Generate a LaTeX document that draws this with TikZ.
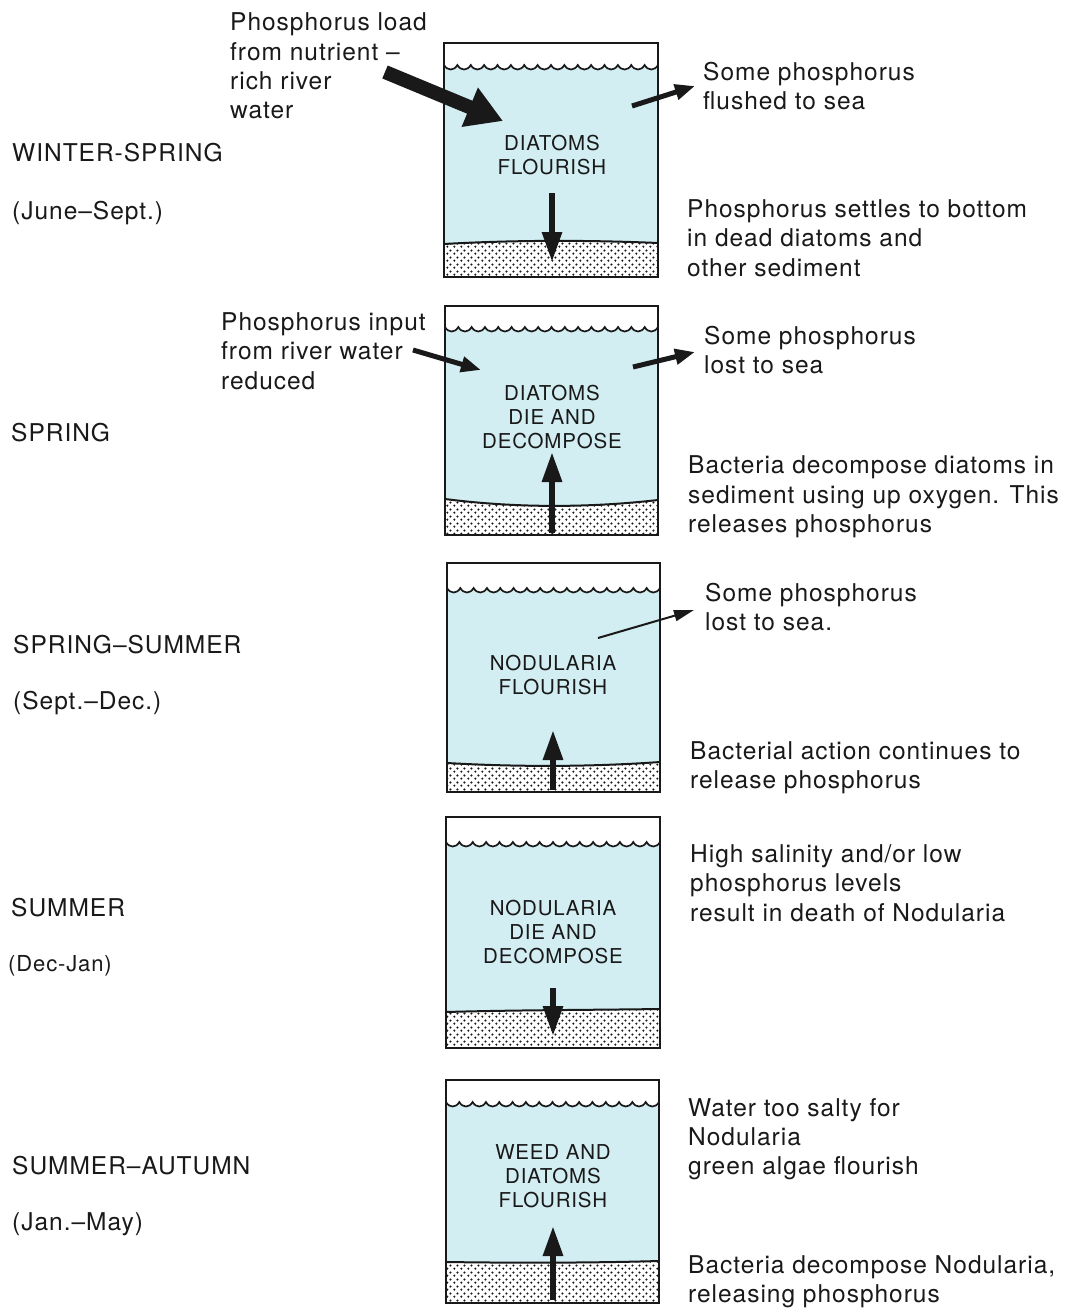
\documentclass[tikz,border=0pt]{standalone}
\usepackage{fontspec}
\setmainfont{TeX Gyre Heros}[LetterSpace=4.0]
\usetikzlibrary{arrows.meta,patterns}
\definecolor{water}{RGB}{210,238,242}
\definecolor{ink}{RGB}{25,25,25}
\pgfdeclarepatternformonly{seddots}{\pgfpoint{-1.5pt}{-1.5pt}}{\pgfpoint{5.5pt}{5.5pt}}{\pgfpoint{7pt}{7pt}}{%
  \pgfpathcircle{\pgfqpoint{0pt}{0pt}}{1.3pt}%
  \pgfpathcircle{\pgfqpoint{3.5pt}{3.5pt}}{1.3pt}%
  \pgfusepathqfill}
% #1 L, #2 R, #3 T, #4 B, #5 wave y, #6 sed left, #7 sed mid ctrl, #8 sed right
\newcommand\drawtank[8]{%
  \fill[water] (#1,#5) foreach \i in {0,...,15}{ .. controls ({#1+(\i+0.25)*(#2-#1)/16},{#5+6}) and ({#1+(\i+0.75)*(#2-#1)/16},{#5+6}) .. ({#1+(\i+1)*(#2-#1)/16},#5)} -- (#2,#8) .. controls ({#2-70},#7) and ({#1+70},#7) .. (#1,#6) -- cycle;
  \fill[pattern=seddots, pattern color=ink] (#1,#6) .. controls ({#1+70},#7) and ({#2-70},#7) .. (#2,#8) -- (#2,#4) -- (#1,#4) -- cycle;
  \draw[line width=1.7pt, ink] (#1,#5) foreach \i in {0,...,15}{ .. controls ({#1+(\i+0.25)*(#2-#1)/16},{#5+6}) and ({#1+(\i+0.75)*(#2-#1)/16},{#5+6}) .. ({#1+(\i+1)*(#2-#1)/16},#5)};
  \draw[line width=2pt, ink] (#1,#6) .. controls ({#1+70},#7) and ({#2-70},#7) .. (#2,#8);
  \draw[line width=2.6pt, ink] (#1,#3) rectangle (#2,#4);
}
\tikzset{
  bigarrow/.style={ink, line width=14pt, -{Triangle[width=40pt,length=36pt]}},
  medarrow/.style={ink, line width=5pt, -{Triangle[width=15pt,length=20pt]}},
  vertarrow/.style={ink, line width=6pt, -{Triangle[width=19pt,length=30pt]}},
  thinarrow/.style={ink, line width=2pt, -{Triangle[width=11pt,length=20pt]}},
  lbl/.style={anchor=west, inner sep=0pt, align=left, font=\fontsize{24.5}{29.3}\selectfont, text=ink},
  smalllbl/.style={anchor=west, inner sep=0pt, align=left, font=\fontsize{22}{26}\selectfont, text=ink},
  boxlbl/.style={inner sep=0pt, align=center, font=\fontsize{20.5}{24}\selectfont, text=ink},
}
\begin{document}
\begin{tikzpicture}[x=1pt, y=-1pt]
\useasboundingbox (0,0) rectangle (1083,1310);
\fill[white] (0,0) rectangle (1083,1310);

% tanks
\drawtank{444}{658}{43}{277}{65}{244}{240}{243}
\drawtank{445}{658}{306}{535}{327}{499}{508}{500}
\drawtank{447}{660}{563}{792}{588}{763}{767}{762}
\drawtank{446}{660}{817}{1048}{842}{1012}{1010}{1009}
\drawtank{446}{659}{1080}{1303}{1102}{1262}{1263}{1261}

% box labels
\node[boxlbl] (b1) at (552,155) {DIATOMS\\FLOURISH};
\node[boxlbl] (b2) at (552,417) {DIATOMS\\DIE AND\\DECOMPOSE};
\node[boxlbl] (b3) at (553,675) {NODULARIA\\FLOURISH};
\node[boxlbl] (b4) at (553,932) {NODULARIA\\DIE AND\\DECOMPOSE};
\node[boxlbl] (b5) at (553,1176) {WEED AND\\DIATOMS\\FLOURISH};

% season labels
\node[lbl] (s1) at (12,153) {WINTER-SPRING};
\node[lbl] (s1d) at (12,213) {(June–Sept.)};
\node[lbl] (s2) at (11,433) {SPRING};
\node[lbl] (s3) at (13,645) {SPRING–SUMMER};
\node[lbl] (s3d) at (13,703) {(Sept.–Dec.)};
\node[lbl] (s4) at (11,908) {SUMMER};
\node[smalllbl] (s4d) at (8,966) {(Dec-Jan)};
\node[lbl] (s5) at (12,1166) {SUMMER–AUTUMN};
\node[lbl] (s5d) at (12,1224) {(Jan.–May)};

% side labels
\node[lbl] (l1) at (230,66) {Phosphorus load\\from nutrient –\\rich river\\water};
\node[lbl] (r1a) at (703,86) {Some phosphorus\\flushed to sea};
\node[lbl] (r1b) at (687,238) {Phosphorus settles to bottom\\in dead diatoms and\\other sediment};
\node[lbl] (l2) at (221,351) {Phosphorus input\\from river water\\reduced};
\node[lbl] (r2a) at (704,350) {Some phosphorus\\lost to sea};
\node[lbl] (r2b) at (688,497) {Bacteria decompose diatoms in\\sediment using up oxygen. This\\releases phosphorus};
\node[lbl] (r3a) at (705,607) {Some phosphorus\\lost to sea.};
\node[lbl] (r3b) at (690,768) {Bacterial action continues to\\release phosphorus};
\node[lbl] (r4a) at (690,883) {High salinity and/or low\\phosphorus levels\\result in death of Nodularia};
\node[lbl] (r5a) at (688,1139) {Water too salty for\\Nodularia\\green algae flourish};
\node[lbl] (r5b) at (688,1282) {Bacteria decompose Nodularia,\\releasing phosphorus};

% arrow end points
\coordinate (a1s) at (385,72);   \coordinate (a1e) at (503,121);
\coordinate (a2s) at (632,106);  \coordinate (a2e) at (695,86);
\coordinate (a3s) at (552,193);  \coordinate (a3e) at (552,262);
\coordinate (a4s) at (413,350);  \coordinate (a4e) at (481,370);
\coordinate (a5s) at (633,367);  \coordinate (a5e) at (695,352);
\coordinate (a6s) at (552,533);  \coordinate (a6e) at (552,452);
\coordinate (a7s) at (598,638);  \coordinate (a7e) at (694,610);
\coordinate (a8s) at (553,790);  \coordinate (a8e) at (553,730);
\coordinate (a9s) at (553,988);  \coordinate (a9e) at (553,1036);
\coordinate (a10s) at (553,1300); \coordinate (a10e) at (553,1226);

\draw[bigarrow] (a1s) -- (a1e);
\draw[medarrow] (a2s) -- (a2e);
\draw[vertarrow] (a3s) -- (a3e);
\draw[medarrow] (a4s) -- (a4e);
\draw[medarrow] (a5s) -- (a5e);
\draw[vertarrow] (a6s) -- (a6e);
\draw[thinarrow] (a7s) -- (a7e);
\draw[vertarrow] (a8s) -- (a8e);
\draw[vertarrow] (a9s) -- (a9e);
\draw[vertarrow] (a10s) -- (a10e);
\end{tikzpicture}
\end{document}
